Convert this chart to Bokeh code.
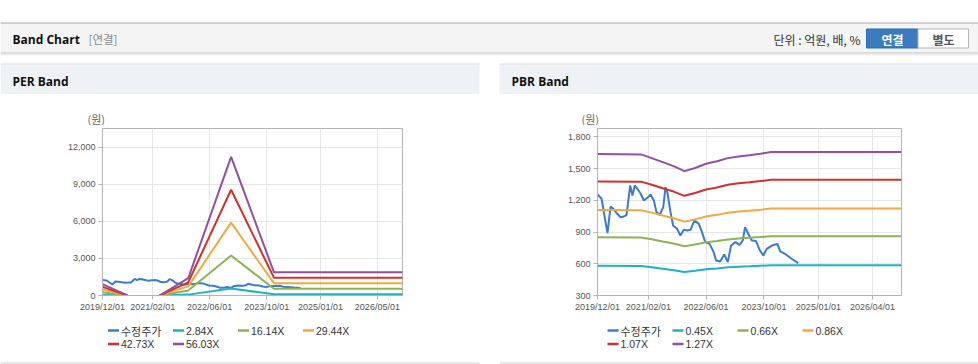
import numpy as np
import pandas as pd
from bokeh.plotting import figure
from bokeh.layouts import column, row
from bokeh.models import Range1d, FixedTicker, DatetimeTickFormatter, NumeralTickFormatter
from bokeh.core.properties import value
from bokeh.embed import file_html
from bokeh.resources import INLINE

# ---------------- data ----------------
price_dates = ["2019-12-01", "2020-01-04", "2020-01-26", "2020-02-23", "2020-03-20", "2020-04-12",
               "2020-05-15", "2020-06-12", "2020-07-10", "2020-08-01", "2020-09-01", "2020-09-20",
               "2020-10-10", "2020-11-01", "2020-11-28", "2020-12-25", "2021-01-24", "2021-02-20",
               "2021-03-19", "2021-04-10", "2021-05-08", "2021-06-06", "2021-06-25", "2021-07-13",
               "2021-08-06", "2021-08-28", "2021-10-01", "2021-10-28", "2021-11-26", "2021-12-25",
               "2022-01-21", "2022-02-24", "2022-04-01", "2022-04-28", "2022-05-25", "2022-07-01",
               "2022-08-04", "2022-08-25", "2022-09-28", "2022-11-01", "2022-12-01", "2022-12-28",
               "2023-02-03", "2023-03-10", "2023-04-06", "2023-04-25", "2023-05-22", "2023-06-21",
               "2023-07-26", "2023-08-29", "2023-09-26", "2023-10-24", "2023-12-07", "2024-01-22",
               "2024-02-15", "2024-03-25", "2024-05-21", "2024-07-15"]
price = [1255, 1214, 1072, 889, 1141, 1119, 1072, 1040, 1047, 1060,
         1340, 1245, 1340, 1308, 1261, 1198, 1223, 1255, 1198, 1088,
         1062, 1135, 1324, 1261, 1088, 962, 930, 867, 921, 915,
         921, 1009, 977, 899, 804, 788, 710, 631, 621, 688,
         615, 773, 804, 779, 820, 946, 883, 820, 814, 725,
         678, 741, 772, 788, 716, 694, 647, 606]

nan = float("nan")
per_dates = ["2019-12-01", "2020-07-01", "2020-10-01", "2021-04-01", "2021-12-01",
             "2022-12-01", "2023-12-01", "2026-12-01"]
per_labels = ["수정주가", "2.84X", "16.14X", "29.44X", "42.73X", "56.03X"]
per_284 = [46, 0, nan, 0, 71, 568, 96, 96]
per_1614 = [263, 0, nan, 0, 404, 3228, 544, 544]
per_2944 = [480, 0, nan, 0, 736, 5888, 992, 992]
per_4273 = [697, 0, nan, 0, 1068, 8546, 1440, 1440]
per_5603 = [913, 0, nan, 0, 1401, 11206, 1888, 1888]

pbr_dates = ["2019-12-01", "2020-12-01", "2021-03-01", "2021-06-01", "2021-09-01", "2021-12-01",
             "2022-03-01", "2022-06-01", "2022-09-01", "2022-12-01", "2023-03-01", "2023-06-01",
             "2023-09-01", "2023-12-01", "2026-12-01"]
pbr_labels = ["수정주가", "0.45X", "0.66X", "0.86X", "1.07X", "1.27X"]
pbr_045 = [580, 579, 567, 553, 539, 522, 533, 548, 556, 566, 572, 576, 581, 586, 586]
pbr_066 = [850, 849, 831, 810, 791, 766, 782, 803, 815, 830, 839, 845, 852, 860, 860]
pbr_086 = [1108, 1106, 1083, 1056, 1030, 998, 1019, 1047, 1062, 1082, 1093, 1101, 1110, 1121, 1121]
pbr_107 = [1378, 1376, 1347, 1314, 1282, 1242, 1268, 1302, 1321, 1346, 1360, 1370, 1381, 1394, 1394]
pbr_127 = [1636, 1633, 1598, 1560, 1522, 1475, 1505, 1545, 1568, 1598, 1614, 1626, 1639, 1655, 1655]

per_yticks = [0, 3000, 6000, 9000, 12000]
pbr_yticks = [300, 600, 900, 1200, 1500, 1800]
per_xticks = ["2019-12-01", "2021-02-01", "2022-06-01", "2023-10-01", "2025-01-01", "2026-05-01"]
pbr_xticks = ["2019-12-01", "2021-02-01", "2022-06-01", "2023-10-01", "2025-01-01", "2026-04-01"]

colors = ["#3a7bd0", "#20b2c4", "#8db356", "#f2a93f", "#d0312d", "#93509f"]

LAT = "Liberation Sans"
KR = "Noto Sans CJK KR"


def blank(width, height, x0, x1, y0, y1):
    p = figure(width=width, height=height, x_range=Range1d(x0, x1), y_range=Range1d(y1, y0),
               output_backend="svg", toolbar_location=None, x_axis_location=None,
               y_axis_location=None, min_border=0)
    p.grid.visible = False
    p.outline_line_color = None
    p.background_fill_color = "white"
    p.border_fill_color = "white"
    return p


def txt(p, x, y, s, font, size, color, align="left", style="normal"):
    p.text(x=[x], y=[y], text=[s], text_font=value(font), text_font_size=value(size),
           text_color=color, text_align=align, text_baseline="middle", text_font_style=style)


# ---------------- header ----------------
hd = blank(978, 125, 0, 978, 0, 125)
hd.quad(left=[0], right=[978], top=[22.5], bottom=[52.5], fill_color="#f4f4f4", line_color=None)
hd.segment(x0=[0], x1=[978], y0=[22.5], y1=[22.5], line_color="#a9a9a9", line_width=1)
hd.segment(x0=[0, 0, 0], x1=[978, 978, 978], y0=[52.5, 53.5, 54.5], y1=[52.5, 53.5, 54.5],
           line_color=["#c4c4c4", "#dddddd", "#eeeeee"], line_width=1)
txt(hd, 12, 38.5, "Band Chart", "Open Sans", "12px", "#111111", style="bold")
txt(hd, 88, 38.5, "[연결]", KR, "11.5px", "#8a8a8a")
txt(hd, 860, 39, "단위 : 억원, 배, %", KR, "12px", "#333333", align="right")
hd.quad(left=[866], right=[917.5], top=[28.5], bottom=[47.5], fill_color="#3b7bbf", line_color="#2f6aa8")
hd.quad(left=[917.5], right=[968], top=[28.5], bottom=[47.5], fill_color="#ffffff", line_color="#b5b5b5")
txt(hd, 892, 38.5, "연결", KR, "12px", "#ffffff", align="center", style="bold")
txt(hd, 943, 38.5, "별도", KR, "12px", "#555555", align="center", style="bold")
# sub headers
hd.quad(left=[0, 499], right=[479, 978], top=[64, 64], bottom=[93.5, 93.5], fill_color="#eef2f7", line_color=None)
hd.segment(x0=[0, 499], x1=[479, 978], y0=[63.5, 63.5], y1=[63.5, 63.5], line_color="#d9d9d9", line_width=1)
txt(hd, 12, 80.5, "PER Band", "Open Sans", "12px", "#111111", style="bold")
txt(hd, 511, 80.5, "PBR Band", "Open Sans", "12px", "#111111", style="bold")
txt(hd, 87, 118, "(원)", KR, "11px", "#666666")
txt(hd, 581, 118, "(원)", KR, "11px", "#666666")


# ---------------- charts ----------------
def ms(d):
    return pd.Timestamp(d).value // 10**6


def chart(width, bl, fw, ymax, ymin, yticks, xticks, band_dates, bands):
    p = figure(width=width, height=195, x_axis_type="datetime",
               x_range=Range1d(pd.Timestamp("2019-12-01"), pd.Timestamp("2026-12-01")),
               y_range=Range1d(ymin, ymax), output_backend="svg", toolbar_location=None,
               min_border_left=bl, min_border_right=width - bl - fw, min_border_top=3,
               min_border_bottom=25)
    p.background_fill_color = "white"
    p.border_fill_color = "white"
    p.outline_line_color = "#b4b4b4"
    p.xaxis.ticker = FixedTicker(ticks=[ms(d) for d in xticks])
    p.xaxis.formatter = DatetimeTickFormatter(
        milliseconds="%Y/%m/%d", seconds="%Y/%m/%d", minsec="%Y/%m/%d", minutes="%Y/%m/%d",
        hourmin="%Y/%m/%d", hours="%Y/%m/%d", days="%Y/%m/%d", months="%Y/%m/%d", years="%Y/%m/%d")
    p.yaxis.ticker = FixedTicker(ticks=yticks)
    p.yaxis.formatter = NumeralTickFormatter(format="0,0")
    for ax in (p.xaxis, p.yaxis):
        ax.axis_line_color = "#b4b4b4"
        ax.major_tick_line_color = "#b4b4b4"
        ax.minor_tick_line_color = None
        ax.major_tick_in = 0
        ax.major_tick_out = 4
        ax.major_label_text_font = LAT
        ax.major_label_text_font_size = "9px"
        ax.major_label_text_color = "#555555"
    p.xaxis.major_label_standoff = 2
    p.yaxis.major_label_standoff = 3
    p.grid.grid_line_color = "#e6e6e6"
    p.line(x=pd.to_datetime(price_dates), y=price, line_width=2, line_color=colors[0])
    bd = pd.to_datetime(band_dates)
    for i, b in enumerate(bands):
        p.line(x=bd, y=np.array(b, dtype=float), line_width=2, line_color=colors[i + 1])
    return p


per = chart(499, 102, 300, 13500, 0, per_yticks, per_xticks, per_dates,
            [per_284, per_1614, per_2944, per_4273, per_5603])
pbr = chart(479, 98, 304, 1878, 300, pbr_yticks, pbr_xticks, pbr_dates,
            [pbr_045, pbr_066, pbr_086, pbr_107, pbr_127])


# ---------------- legends ----------------
def legend(width, x0, x1, start, labels, panel_right):
    p = blank(width, 44, x0, x1, 320, 364)
    for i, lab in enumerate(labels):
        r, c = divmod(i, 4)
        x = start + c * 65
        y = 330 + r * 13.5
        p.segment(x0=[x], x1=[x + 11], y0=[y], y1=[y], line_color=colors[i], line_width=2.5)
        font = KR if i == 0 else LAT
        txt(p, x + 13, y, lab, font, "11px" if i == 0 else "10.5px", "#333333")
    p.segment(x0=[x0], x1=[panel_right], y0=[362.5], y1=[362.5], line_color="#cfcfcf", line_width=1)
    return p


leg_l = legend(499, 0, 499, 107.5, per_labels, 479)
leg_r = legend(479, 499, 978, 607, pbr_labels, 978)

layout = column(hd, row(per, pbr), row(leg_l, leg_r))

open("out.html", "w").write(file_html(layout, INLINE))
